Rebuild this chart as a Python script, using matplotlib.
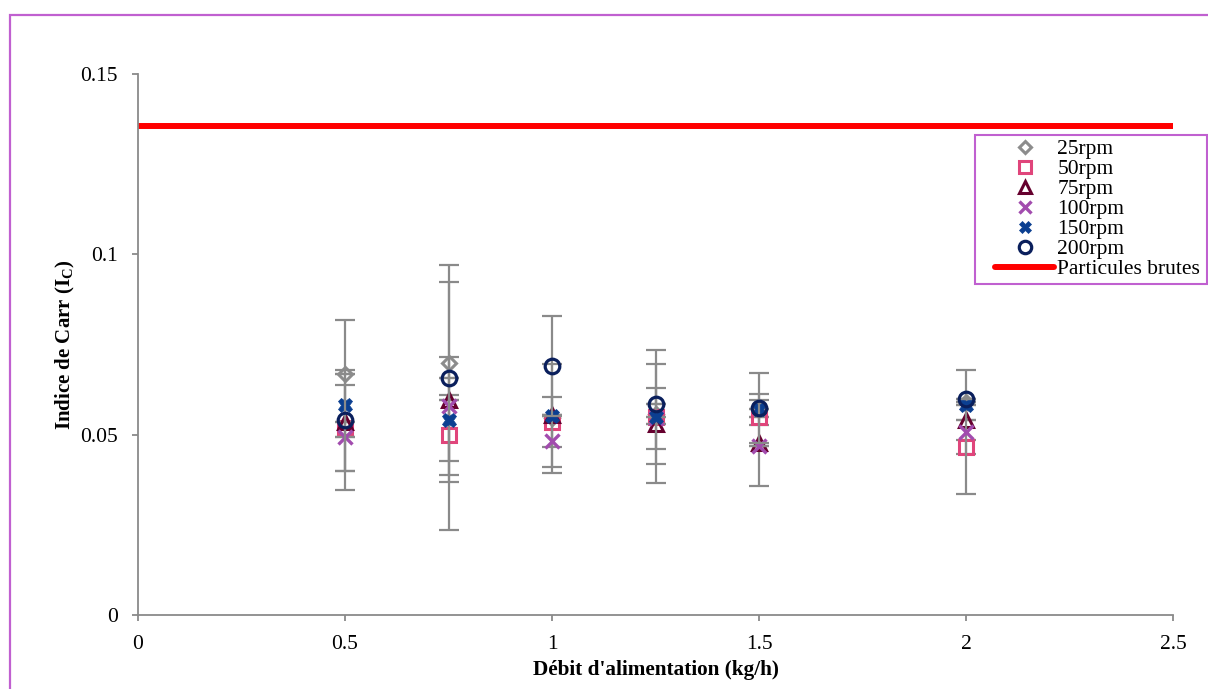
import matplotlib
matplotlib.use("Agg")
import matplotlib.pyplot as plt
from matplotlib.lines import Line2D
from matplotlib.patches import Rectangle

plt.rcParams['font.family'] = ['Liberation Serif', 'DejaVu Serif']
plt.rcParams['mathtext.fontset'] = 'custom'
plt.rcParams['mathtext.rm'] = 'Liberation Serif'
plt.rcParams['mathtext.bf'] = 'Liberation Serif:bold'

# ---- data ----
x_vals = [0.5, 0.75, 1.0, 1.25, 1.5, 2.0]
labels = ['25rpm', '50rpm', '75rpm', '100rpm', '150rpm', '200rpm']

y_25 = [0.0668, 0.0699, 0.0545, 0.0558, 0.0570, 0.0590]
e_25 = [0.0, 0.0271, 0.0150, 0.0138, 0.0044, 0.0]
y_50 = [0.0518, 0.0499, 0.0536, 0.0550, 0.0550, 0.0466]
e_50 = [0.0120, 0.0110, 0.0069, 0.0184, 0.0, 0.0020]
y_75 = [0.0535, 0.0596, 0.0554, 0.0530, 0.0476, 0.0540]
e_75 = [0.0, 0.0, 0.0, 0.0, 0.0119, 0.0]
y_100 = [0.0493, 0.0579, 0.0483, 0.0545, 0.0468, 0.0508]
e_100 = [0.0, 0.0343, 0.0072, 0.0085, 0.0, 0.0172]
y_150 = [0.0582, 0.0542, 0.0552, 0.0550, 0.0570, 0.0582]
e_150 = [0.0235, 0.0174, 0.0, 0.0, 0.0, 0.0]
y_200 = [0.0540, 0.0657, 0.0691, 0.0584, 0.0573, 0.0598]
e_200 = [0.0140, 0.0, 0.0139, 0.0, 0.0097, 0.0]

brutes_x = [0.0, 2.5]
brutes_y = [0.1356, 0.1356]
brutes_label = 'Particules brutes'

x_ticks = [0, 0.5, 1, 1.5, 2, 2.5]
x_tick_labels = ['0', '0.5', '1', '1.5', '2', '2.5']
y_ticks = [0, 0.05, 0.1, 0.15]
y_tick_labels = ['0', '0.05', '0.1', '0.15']

series = [
    (y_25, e_25, 'D', '#8C8C8C', 7.5, 2.2),
    (y_50, e_50, 's', '#E0457B', 9.5, 2.2),
    (y_75, e_75, '^', '#66002E', 9.5, 2.2),
    (y_100, e_100, 'x', '#A24CAE', 9.5, 2.4),
    (y_150, e_150, 'X', '#0B3F91', 10.5, 0.5),
    (y_200, e_200, 'o', '#0A1F5C', 10.5, 2.3),
]

W, H = 1208, 689
fig = plt.figure(figsize=(W / 100, H / 100), dpi=100)
ax = fig.add_axes([138 / W, 1 - 615 / H, (1173 - 138) / W, (615 - 74) / H])

# outer border of the chart area
fig.patches.append(Rectangle((9.5 / W, -0.1), 1.2, 1 - 14.5 / H + 0.1,
                             transform=fig.transFigure, fill=False,
                             edgecolor='#C060D0', linewidth=1.6, zorder=0))

ax.plot(brutes_x, brutes_y, color='#FF0000', linewidth=4.3,
        solid_capstyle='butt', zorder=2)

handles = []
for i, (ys, es, mk, col, ms, mew) in enumerate(series):
    filled = mk == 'X'
    ax.errorbar(x_vals, ys, yerr=es, fmt='none', ecolor='#8A8A8A',
                elinewidth=1.6, capsize=7, capthick=1.6, zorder=3 + i)
    ax.plot(x_vals, ys, linestyle='none', marker=mk, markersize=ms,
            markeredgewidth=mew, markeredgecolor=col,
            markerfacecolor=col if filled else 'none', zorder=3.5 + i)
    handles.append(Line2D([], [], linestyle='none', marker=mk,
                          markersize=ms * 0.85, markeredgewidth=mew,
                          markeredgecolor=col,
                          markerfacecolor=col if filled else 'none',
                          label=labels[i]))
handles.append(Line2D([], [], color='#FF0000', linewidth=4.3,
                      solid_capstyle='round', label=brutes_label))

ax.set_xlim(0, 2.5)
ax.set_ylim(0, 0.15)
ax.set_xticks(x_ticks)
ax.set_xticklabels(x_tick_labels)
ax.set_yticks(y_ticks)
ax.set_yticklabels(y_tick_labels)
for s in ['top', 'right']:
    ax.spines[s].set_visible(False)
for s in ['left', 'bottom']:
    ax.spines[s].set_color('#8A8A8A')
    ax.spines[s].set_linewidth(1.3)
ax.tick_params(axis='both', direction='out', length=4.5, width=1.3,
               color='#8A8A8A', labelsize=15.5, labelcolor='black')
ax.tick_params(axis='x', pad=10)
ax.tick_params(axis='y', pad=10)

ax.set_xlabel("Débit d'alimentation (kg/h)", fontsize=15.3, fontweight='bold',
              labelpad=4.5)
ax.set_ylabel(r"Indice de Carr (I$_\mathbf{C}$)", fontsize=15,
              fontweight='bold', labelpad=2.5)

# legend frame drawn separately (Excel-like padding)
fig.patches.append(Rectangle((975 / W, 1 - 284 / H), (1207 - 975) / W,
                             (284 - 135) / H, transform=fig.transFigure,
                             facecolor='white', edgecolor='#C060D0',
                             linewidth=1.5, zorder=5))
leg = fig.legend(handles=handles, loc='upper left',
                 bbox_to_anchor=(995 / W, 1 - 139 / H),
                 fontsize=15.5, frameon=False, borderpad=0.0,
                 labelspacing=0.0, handlelength=2.75, handletextpad=0.15,
                 borderaxespad=0)
leg.set_zorder(6)

fig.savefig('out.png', dpi=100)
